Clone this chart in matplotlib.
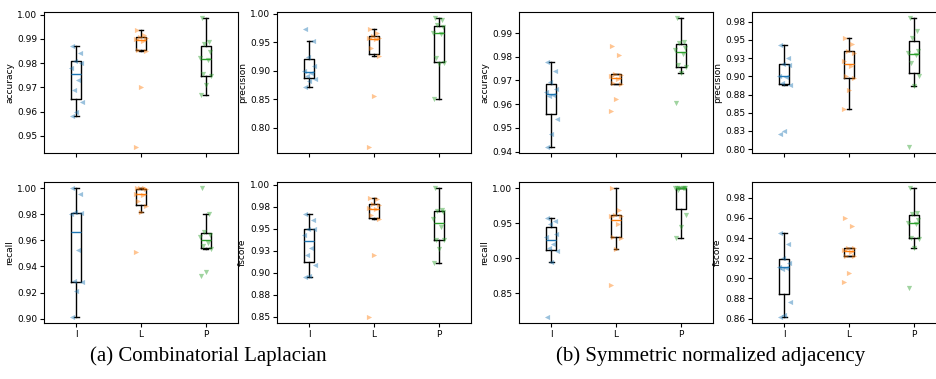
import numpy as np
import matplotlib.pyplot as plt
from matplotlib.ticker import FuncFormatter, MultipleLocator

methods = ['I', 'L', 'P']
metrics = ['accuracy', 'precision', 'recall', 'fscore']

# (a) Combinatorial Laplacian
lap_accuracy = [
    [0.987, 0.984, 0.981, 0.980, 0.978, 0.973, 0.969, 0.964, 0.960, 0.958],
    [0.9939, 0.9915, 0.991, 0.9905, 0.990, 0.989, 0.9856, 0.9852, 0.970, 0.9455],
    [0.9985, 0.9888, 0.988, 0.9845, 0.982, 0.9815, 0.9755, 0.9745, 0.971, 0.9667],
]
lap_precision = [
    [0.974, 0.952, 0.925, 0.909, 0.900, 0.896, 0.891, 0.886, 0.883, 0.872],
    [0.9738, 0.966, 0.962, 0.958, 0.957, 0.955, 0.940, 0.9265, 0.855, 0.767],
    [0.992, 0.9895, 0.980, 0.977, 0.967, 0.965, 0.922, 0.914, 0.912, 0.851],
]
lap_recall = [
    [1.0, 0.9954, 0.9816, 0.981, 0.9806, 0.953, 0.929, 0.928, 0.921, 0.9015],
    [1.0, 1.0, 1.0, 0.9995, 0.9957, 0.9952, 0.990, 0.9865, 0.9821, 0.951],
    [1.0, 0.980, 0.9663, 0.9645, 0.963, 0.958, 0.9555, 0.9536, 0.936, 0.933],
]
lap_fscore = [
    [0.967, 0.9596, 0.9502, 0.9495, 0.9434, 0.928, 0.9207, 0.9086, 0.896, 0.8946],
    [0.985, 0.984, 0.9785, 0.9775, 0.9735, 0.972, 0.966, 0.9615, 0.920, 0.850],
    [0.996, 0.9717, 0.970, 0.969, 0.9615, 0.952, 0.9377, 0.937, 0.9275, 0.911],
]

# (b) Symmetric normalized adjacency
adj_accuracy = [
    [0.978, 0.9738, 0.9693, 0.9665, 0.965, 0.964, 0.9633, 0.9536, 0.9474, 0.9421],
    [0.9844, 0.9807, 0.9728, 0.9725, 0.9717, 0.9707, 0.9688, 0.9685, 0.962, 0.9571],
    [0.9962, 0.9863, 0.986, 0.9838, 0.983, 0.981, 0.9765, 0.9755, 0.9731, 0.9605],
]
adj_precision = [
    [0.9432, 0.925, 0.917, 0.915, 0.9005, 0.8995, 0.891, 0.8885, 0.825, 0.8205],
    [0.9523, 0.9441, 0.935, 0.9318, 0.9214, 0.9136, 0.900, 0.8977, 0.8818, 0.8555],
    [0.9795, 0.9623, 0.9523, 0.935, 0.9315, 0.9295, 0.918, 0.900, 0.8864, 0.8036],
]
adj_recall = [
    [0.957, 0.9533, 0.9486, 0.9352, 0.931, 0.9205, 0.915, 0.910, 0.8938, 0.8162],
    [1.0, 0.9686, 0.962, 0.961, 0.960, 0.9486, 0.930, 0.9295, 0.9138, 0.862],
    [1.0, 1.0, 1.0, 1.0, 1.0, 1.0, 0.998, 0.962, 0.944, 0.9295],
]
adj_fscore = [
    [0.9453, 0.9337, 0.9198, 0.9155, 0.911, 0.9106, 0.9096, 0.8765, 0.8635, 0.862],
    [0.9602, 0.9519, 0.930, 0.9298, 0.9284, 0.9258, 0.9224, 0.922, 0.9056, 0.8967],
    [0.9893, 0.9651, 0.9641, 0.9575, 0.9548, 0.9542, 0.9405, 0.9395, 0.9298, 0.8907],
]

colors = ['tab:blue', 'tab:orange', 'tab:green']
markers = ['<', '>', 'v']
jitter = np.array([-0.06, 0.05, -0.02, 0.07, -0.08, 0.03, -0.04, 0.08, 0.0, -0.07])

W, H = 937, 379
fig = plt.figure(figsize=(W / 100, H / 100), dpi=100)


def px_axes(x0, y0, x1, y1):
    return fig.add_axes([x0 / W, 1 - y1 / H, (x1 - x0) / W, (y1 - y0) / H])


def fmt(v, pos):
    return '%.2f' % round(v + 1e-9, 2)


def draw(ax, data, label, bottom, step):
    for i, vals in enumerate(data):
        ax.boxplot([vals], positions=[i + 1], widths=0.15, showfliers=False,
                   medianprops=dict(color=colors[i], linewidth=1),
                   boxprops=dict(color='black', linewidth=1),
                   whiskerprops=dict(color='black', linewidth=1),
                   capprops=dict(color='black', linewidth=1))
        ax.scatter(i + 1 + jitter[:len(vals)], vals, marker=markers[i],
                   color=colors[i], alpha=0.45, s=14, linewidths=0, zorder=3)
    ax.set_xlim(0.5, 3.5)
    ax.set_xticks([1, 2, 3])
    ax.set_xticklabels(methods if bottom else [])
    ax.set_ylabel(label, fontsize=6.5, labelpad=2)
    ax.yaxis.set_major_locator(MultipleLocator(step))
    ax.yaxis.set_major_formatter(FuncFormatter(fmt))
    ax.tick_params(labelsize=6.5, length=3, pad=2)


cols_x = [(44, 238), (277, 471), (519, 713), (752, 946)]
rows_y = [(12, 153), (182, 323)]

panels = [
    [lap_accuracy, lap_precision, lap_recall, lap_fscore],
    [adj_accuracy, adj_precision, adj_recall, adj_fscore],
]
steps = [
    [0.01, 0.05, 0.02, 0.025],
    [0.01, 0.025, 0.05, 0.02],
]

for p, pdata in enumerate(panels):
    for k, data in enumerate(pdata):
        r, c = divmod(k, 2)
        x0, x1 = cols_x[2 * p + c]
        y0, y1 = rows_y[r]
        ax = px_axes(x0, y0, x1, y1)
        draw(ax, data, metrics[k], r == 1, steps[p][k])

fig.text(208 / W, 1 - 356 / H, '(a) Combinatorial Laplacian', ha='center', va='center',
         fontsize=15, family='Liberation Serif')
fig.text(711 / W, 1 - 356 / H, '(b) Symmetric normalized adjacency', ha='center', va='center',
         fontsize=15, family='Liberation Serif')

fig.savefig('out.png', dpi=100)
